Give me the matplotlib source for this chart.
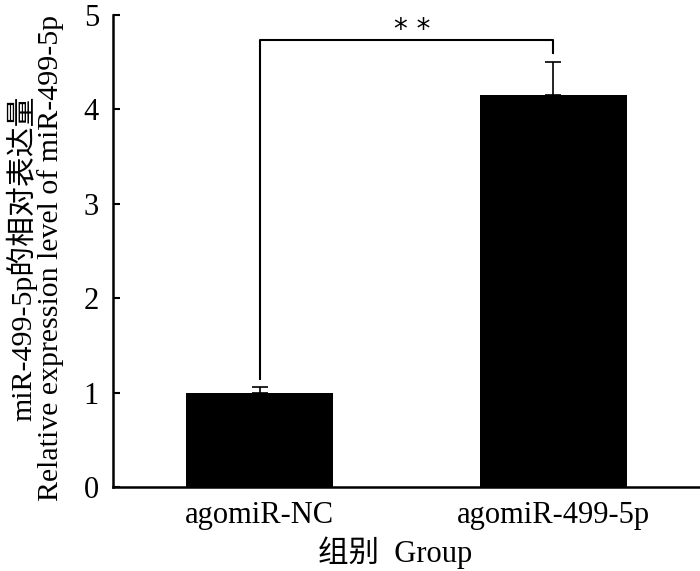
import matplotlib.pyplot as plt
import numpy as np

plt.rcParams['font.family'] = ['Liberation Serif', 'Noto Sans CJK SC']
plt.rcParams['mathtext.default'] = 'regular'

groups = ['agomiR-NC', 'agomiR-499-5p']
values = [1.0, 4.15]
errors = [0.06, 0.35]
yticks = [0, 1, 2, 3, 4, 5]

fig = plt.figure(figsize=(7, 5.71), dpi=100)
ax = fig.add_axes([0.1614, 0.1471, 0.8386, 0.8266])

x = np.arange(len(groups))
ax.bar(x, values, width=0.5, color='black')
ax.errorbar(x, values, yerr=[[0, 0], errors], fmt='none', ecolor='black',
            elinewidth=1.2, capsize=6, capthick=1.2)

# significance bracket
ax.plot([x[0], x[0], x[1], x[1]], [1.14, 4.74, 4.74, 4.60],
        color='black', lw=1.5, clip_on=False)
ax.text((x[0] + x[1]) / 2 + 0.02, 4.84, '* *', ha='center', va='center',
        fontsize=20, family='DejaVu Sans', clip_on=False)

ax.set_xlim(-0.5, 1.5)
ax.set_ylim(0, 5)
ax.set_yticks(yticks)
ax.set_xticks(x)
ax.set_xticklabels(groups, fontsize=22)
ax.tick_params(axis='y', direction='in', length=5, width=1.5, labelsize=22, pad=10)
ax.tick_params(axis='x', length=0, pad=10)

for s in ['top', 'right']:
    ax.spines[s].set_visible(False)
for s in ['left', 'bottom']:
    ax.spines[s].set_linewidth(1.8)

ax.set_ylabel('miR-499-5p的相对表达量\nRelative expression level of miR-499-5p',
              fontsize=21.5, linespacing=1.0)
ax.yaxis.set_label_coords(-0.083, 0.485)
ax.set_xlabel('组别  Group', fontsize=22)
ax.xaxis.set_label_coords(0.48, -0.105)

fig.savefig('out.png', dpi=100)
